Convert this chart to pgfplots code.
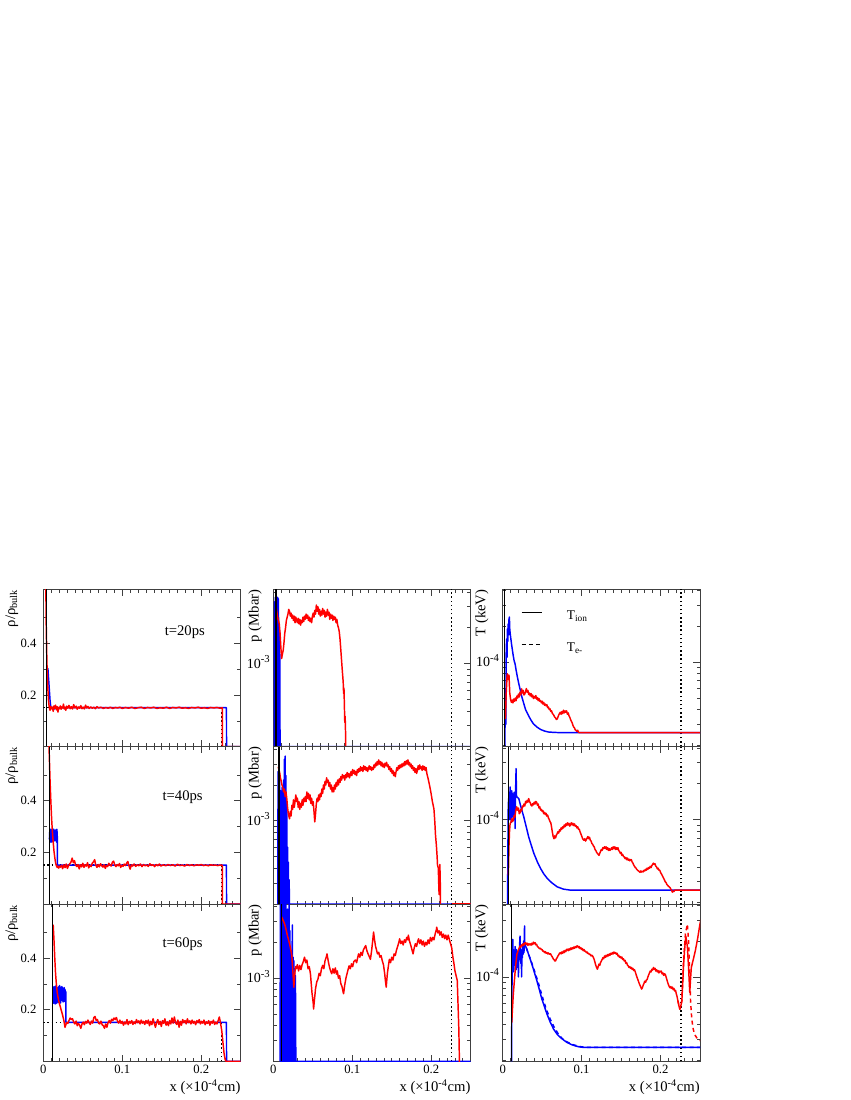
\documentclass[border=0pt]{standalone}
\usepackage{fontspec}
\setmainfont{Liberation Serif}
\usepackage{pgfplots}
\pgfplotsset{compat=1.18}

% 1px of the reference = 0.75pt
\newcommand{\expo}[1]{{\fontsize{10.5}{11}\selectfont 10}\raisebox{1.0ex}{\fontsize{8}{8}\selectfont #1}}
\pgfplotsset{
  panel/.style={
    scale only axis, width=148pt, height=118pt, anchor=north west,
    xmin=0, xmax=0.25,
    xtick={0,0.1,0.2}, minor xtick={0.01,0.02,...,0.24},
    tick align=inside, major tick length=5pt, minor tick length=2.5pt,
    axis line style={black!75, line width=0.6pt},
    every tick/.style={black!75, line width=0.5pt},
    tick label style={font=\fontsize{9.5}{10}\selectfont},
    label style={font=\fontsize{11}{13}\selectfont},
    /pgf/number format/assume math mode=true,
    xticklabel style={inner sep=0pt, anchor=north, yshift=-2.4pt},
    xlabel style={at={(axis description cs:1,0)}, anchor=base east, yshift=-22.5pt, inner sep=0pt},
    ylabel style={anchor=east, inner sep=0pt},
    every axis plot/.append style={line width=1.1pt, line join=round, mark=none},
  },
  rowup/.style={xticklabels={}},
  rowlow/.style={xlabel={x (×10\textsuperscript{-4}cm)}},
  rhocol/.style={ymin=0, ymax=0.61, ytick={0.2,0.4}, minor ytick={0.1,0.3,0.5},
    yticklabel style={inner sep=0pt, anchor=east, xshift=-5pt},
    ylabel={ρ/ρ\textsubscript{bulk}}, ylabel style={at={(axis description cs:-0.16,1)}}},
  pcol/.style={ymin=2e-4, ymax=4.2e-3, ytick={1e-3}, yticklabels={{\expo{-3}}},
    minor ytick={3e-4,4e-4,5e-4,6e-4,7e-4,8e-4,9e-4,2e-3,3e-3,4e-3},
    yticklabel style={inner sep=0pt, anchor=base east, xshift=-2.5pt, yshift=-3.5pt},
    ylabel={p (Mbar)}, ylabel style={at={(axis description cs:-0.093,1)}}},
  tcol/.style={ymin=1.95e-5, ymax=4.1e-4, ytick={1e-4}, yticklabels={{\expo{-4}}},
    minor ytick={2e-5,3e-5,4e-5,5e-5,6e-5,7e-5,8e-5,9e-5,2e-4,3e-4,4e-4},
    yticklabel style={inner sep=0pt, anchor=base east, xshift=-2.5pt, yshift=-3.5pt},
    ylabel={T (keV)}, ylabel style={at={(axis description cs:-0.106,1)}}},
}
\tikzset{rootdash/.style={dash pattern=on 3pt off 2.5pt}}

\begin{document}
\begin{tikzpicture}
\useasboundingbox (0,0) rectangle (637.5pt,825pt);

%================ row 1 : t = 20 ps ================
\begin{axis}[panel, rowup, rhocol, at={(32.5pt,383pt)}]
\addplot[black, dotted, line width=0.9pt] coordinates {(0,0.151) (0.226,0.151)};
\addplot[black, dotted, line width=0.9pt] coordinates {(0.226,0) (0.226,0.151)};
\addplot[blue] coordinates {(0.004,0.303) (0.0058,0.303) (0.0085,0.18) (0.0095,0.151) (0.0125,0.151) (0.014,0.146) (0.016,0.151) (0.232,0.151) (0.2321,0) (0.25,0)};
\addplot[red] coordinates {(0.0025,0.95) (0.0035,0.5) (0.0045,0.33) (0.0055,0.24) (0.0065,0.18) (0.0075,0.152) (0.0085,0.141) (0.0095,0.156) (0.0105,0.146) (0.0115,0.153) (0.0125,0.137) (0.0135,0.158) (0.0145,0.149) (0.0155,0.161) (0.0165,0.143) (0.0175,0.155) (0.0185,0.134) (0.0195,0.152) (0.0205,0.147) (0.0215,0.158) (0.0225,0.145) (0.0235,0.154) (0.0245,0.15) (0.0255,0.165) (0.0265,0.146) (0.0275,0.153) (0.0285,0.141) (0.0295,0.157) (0.031,0.149) (0.0325,0.16) (0.034,0.147) (0.0355,0.155) (0.037,0.146) (0.0385,0.163) (0.04,0.15) (0.0415,0.157) (0.043,0.145) (0.0445,0.154) (0.046,0.149) (0.0475,0.159) (0.049,0.147) (0.0505,0.153) (0.052,0.146) (0.0535,0.161) (0.055,0.15) (0.0565,0.156) (0.058,0.148) (0.06,0.154) (0.062,0.149) (0.064,0.153) (0.066,0.147) (0.068,0.155) (0.07,0.15) (0.073,0.153) (0.076,0.148) (0.079,0.152) (0.082,0.149) (0.085,0.153) (0.088,0.148) (0.091,0.152) (0.094,0.15) (0.097,0.153) (0.1,0.148) (0.104,0.152) (0.108,0.149) (0.112,0.153) (0.116,0.148) (0.12,0.151) (0.124,0.153) (0.128,0.148) (0.132,0.152) (0.136,0.15) (0.14,0.153) (0.144,0.148) (0.148,0.151) (0.152,0.149) (0.156,0.153) (0.16,0.148) (0.164,0.152) (0.168,0.15) (0.172,0.153) (0.176,0.149) (0.18,0.151) (0.184,0.148) (0.188,0.152) (0.192,0.15) (0.196,0.153) (0.2,0.149) (0.204,0.151) (0.208,0.148) (0.212,0.152) (0.216,0.15) (0.22,0.152) (0.224,0.149) (0.2268,0.151) (0.2269,0) (0.25,0)};
\addplot[black, line width=0.9pt] coordinates {(0.0043,0) (0.0043,0.61)};
\node[font=\fontsize{11}{13}\selectfont] at (rel axis cs:0.717,0.73) {t=20ps};
\end{axis}

\begin{axis}[panel, rowup, ymode=log, pcol, at={(205pt,383pt)}]
\addplot[black, dotted, line width=0.9pt] coordinates {(0.226,2e-4) (0.226,4.2e-3)};
\addplot[blue] coordinates {(0.0013,2e-4) (0.0015,3.3e-3) (0.002,2e-4) (0.0025,3.6e-3) (0.003,2e-4) (0.0035,3.2e-3) (0.004,2e-4) (0.0045,2.8e-3) (0.005,2e-4) (0.0055,3.6e-3) (0.006,2e-4) (0.0065,3.5e-3) (0.007,2e-4) (0.0075,2.0e-3) (0.008,2e-4) (0.0083,1.2e-3) (0.0085,2e-4) (0.25,2e-4)};
\addplot[red] coordinates {(0.0035,3.0e-3) (0.0045,2.7e-3) (0.0055,2.45e-3) (0.0065,2.3e-3) (0.0075,2.15e-3) (0.0085,1.8e-3) (0.0095,1.38e-3) (0.0105,1.1e-3) (0.0115,1.2e-3) (0.0125,1.29e-3) (0.0135,1.5e-3) (0.0145,1.8e-3) (0.0155,2.0e-3) (0.0165,2.3e-3) (0.0175,2.45e-3) (0.0185,2.6e-3) (0.0195,2.85e-3) (0.0205,2.75e-3) (0.0215,2.5e-3) (0.0225,2.65e-3) (0.0235,2.4e-3) (0.0245,2.55e-3) (0.0255,2.3e-3) (0.0265,2.5e-3) (0.0275,2.2e-3) (0.0285,2.45e-3) (0.0295,2.3e-3) (0.0305,2.2e-3) (0.0315,2.4e-3) (0.0325,2.15e-3) (0.0335,2.35e-3) (0.0345,2.1e-3) (0.0355,2.3e-3) (0.0365,2.2e-3) (0.0375,2.45e-3) (0.0385,2.25e-3) (0.0395,2.5e-3) (0.0405,2.35e-3) (0.0415,2.6e-3) (0.0425,2.4e-3) (0.0435,2.55e-3) (0.0445,2.3e-3) (0.0455,2.45e-3) (0.0465,2.25e-3) (0.0475,2.4e-3) (0.0485,2.2e-3) (0.0495,2.5e-3) (0.0505,2.65e-3) (0.0515,2.45e-3) (0.0525,2.8e-3) (0.0535,2.6e-3) (0.0545,3.1e-3) (0.0555,2.75e-3) (0.0565,3.0e-3) (0.0575,2.6e-3) (0.0585,2.85e-3) (0.0595,2.5e-3) (0.0605,2.75e-3) (0.0615,2.55e-3) (0.0625,2.9e-3) (0.0635,2.6e-3) (0.0645,2.8e-3) (0.0655,2.45e-3) (0.0665,2.7e-3) (0.0675,2.5e-3) (0.0685,2.85e-3) (0.0695,2.55e-3) (0.0705,2.7e-3) (0.0715,2.35e-3) (0.0725,2.6e-3) (0.0735,2.4e-3) (0.0745,2.55e-3) (0.0755,2.3e-3) (0.0765,2.5e-3) (0.0775,2.35e-3) (0.0785,2.45e-3) (0.0795,2.2e-3) (0.0805,2.35e-3) (0.0815,2.1e-3) (0.0825,2.0e-3) (0.0835,1.85e-3) (0.0845,1.6e-3) (0.0855,1.3e-3) (0.0865,1.05e-3) (0.0875,8.5e-4) (0.0885,7e-4) (0.089,5.6e-4) (0.0895,6.2e-4) (0.09,4.5e-4) (0.0905,3.2e-4) (0.091,3.6e-4) (0.0915,2.6e-4) (0.092,1.5e-4)};
\addplot[red] coordinates {(0.226,2e-4) (0.25,2e-4)};
\addplot[black, line width=0.9pt] coordinates {(0.0033,2e-4) (0.0033,4.2e-3)};
\end{axis}

\begin{axis}[panel, rowup, ymode=log, tcol, at={(377pt,383pt)}]
\addplot[black, dotted, line width=0.9pt] coordinates {(0.2259,1.95e-5) (0.2259,4.1e-4)};
\addplot[blue] coordinates {(0.0028,1.95e-5) (0.003,3e-5) (0.0035,6e-5) (0.004,3e-5) (0.0045,1.2e-4) (0.005,1.57e-4) (0.0055,1.1e-4) (0.006,1.9e-4) (0.0065,1.5e-4) (0.007,2.1e-4) (0.0075,1.7e-4) (0.008,2.3e-4) (0.0085,2.4e-4) (0.009,1.9e-4) (0.0095,1.75e-4) (0.0105,1.55e-4) (0.0115,1.38e-4) (0.013,1.18e-4) (0.0145,1.03e-4) (0.0157,9.7e-5) (0.017,8.6e-5) (0.0185,7.6e-5) (0.02,6.8e-5) (0.022,5.95e-5) (0.024,5.2e-5) (0.0263,4.6e-5) (0.029,4.0e-5) (0.0327,3.56e-5) (0.036,3.25e-5) (0.039,3.03e-5) (0.0435,2.85e-5) (0.048,2.72e-5) (0.053,2.64e-5) (0.058,2.59e-5) (0.065,2.57e-5) (0.073,2.56e-5) (0.25,2.56e-5)};
\addplot[red] coordinates {(0.0035,3.33e-5) (0.0045,5.5e-5) (0.0055,7.5e-5) (0.006,8.0e-5) (0.007,7.2e-5) (0.008,7.8e-5) (0.009,5.5e-5) (0.01,4.9e-5) (0.011,4.6e-5) (0.012,4.8e-5) (0.013,4.55e-5) (0.014,4.9e-5) (0.015,4.7e-5) (0.016,5.0e-5) (0.017,4.75e-5) (0.018,5.2e-5) (0.019,5.0e-5) (0.02,5.4e-5) (0.021,5.1e-5) (0.022,5.6e-5) (0.023,5.3e-5) (0.024,5.97e-5) (0.025,5.5e-5) (0.026,5.8e-5) (0.027,5.3e-5) (0.028,5.4e-5) (0.029,5.65e-5) (0.03,6.0e-5) (0.031,5.6e-5) (0.032,5.8e-5) (0.033,5.35e-5) (0.034,5.5e-5) (0.035,5.2e-5) (0.036,5.45e-5) (0.037,5.1e-5) (0.038,5.3e-5) (0.039,4.95e-5) (0.04,5.15e-5) (0.041,5.0e-5) (0.042,5.25e-5) (0.043,4.9e-5) (0.044,5.05e-5) (0.045,4.75e-5) (0.046,4.95e-5) (0.047,4.7e-5) (0.048,4.76e-5) (0.049,4.55e-5) (0.05,4.7e-5) (0.051,4.45e-5) (0.052,4.6e-5) (0.053,4.35e-5) (0.054,4.45e-5) (0.055,4.3e-5) (0.056,4.4e-5) (0.057,4.15e-5) (0.058,4.2e-5) (0.059,4.0e-5) (0.06,4.05e-5) (0.061,3.85e-5) (0.062,3.9e-5) (0.063,3.7e-5) (0.064,3.65e-5) (0.065,3.56e-5) (0.066,3.45e-5) (0.067,3.4e-5) (0.068,3.3e-5) (0.069,3.33e-5) (0.07,3.45e-5) (0.071,3.6e-5) (0.072,3.7e-5) (0.073,3.8e-5) (0.074,3.65e-5) (0.075,3.85e-5) (0.076,3.7e-5) (0.077,3.95e-5) (0.078,3.75e-5) (0.079,3.9e-5) (0.08,3.8e-5) (0.081,3.9e-5) (0.082,3.65e-5) (0.083,3.75e-5) (0.084,3.55e-5) (0.085,3.45e-5) (0.086,3.3e-5) (0.087,3.2e-5) (0.088,3.1e-5) (0.089,2.95e-5) (0.09,2.85e-5) (0.091,2.8e-5) (0.092,2.7e-5) (0.093,2.67e-5) (0.094,2.62e-5) (0.095,2.68e-5) (0.096,2.58e-5) (0.097,2.56e-5) (0.25,2.56e-5)};
\addplot[black, line width=0.9pt] coordinates {(0.002,1.95e-5) (0.002,4.1e-4)};
\draw[black, line width=1.1pt] (rel axis cs:0.096,0.854) -- (rel axis cs:0.197,0.854);
\draw[black, line width=1.1pt, rootdash] (rel axis cs:0.096,0.651) -- (rel axis cs:0.197,0.651);
\node[anchor=base west, inner sep=0pt, font=\fontsize{10}{11}\selectfont] at (rel axis cs:0.324,0.809) {T\textsubscript{ion}};
\node[anchor=base west, inner sep=0pt, font=\fontsize{10}{11}\selectfont] at (rel axis cs:0.324,0.608) {T\textsubscript{e-}};
\end{axis}

%================ row 2 : t = 40 ps ================
\begin{axis}[panel, rowup, rhocol, at={(32.5pt,265pt)}]
\addplot[black, dotted, line width=0.9pt] coordinates {(0,0.151) (0.226,0.151)};
\addplot[black, dotted, line width=0.9pt] coordinates {(0.226,0) (0.226,0.151)};
\addplot[blue] coordinates {(0.0077,0.25) (0.0082,0.285) (0.0087,0.24) (0.0092,0.29) (0.0097,0.245) (0.0102,0.28) (0.0107,0.24) (0.0112,0.288) (0.0117,0.25) (0.0122,0.285) (0.0127,0.242) (0.0132,0.29) (0.0137,0.248) (0.0142,0.283) (0.0147,0.245) (0.0152,0.287) (0.0157,0.25) (0.0162,0.282) (0.0167,0.24) (0.0172,0.29) (0.0177,0.26) (0.0179,0.151) (0.232,0.151) (0.2321,0) (0.25,0)};
\addplot[red] coordinates {(0.0055,0.9) (0.0065,0.7) (0.0075,0.58) (0.0085,0.48) (0.0095,0.4) (0.0105,0.33) (0.0115,0.28) (0.0125,0.24) (0.0135,0.205) (0.0145,0.18) (0.0155,0.16) (0.0165,0.148) (0.0175,0.142) (0.0185,0.147) (0.0195,0.139) (0.0205,0.146) (0.0215,0.143) (0.023,0.15) (0.0245,0.137) (0.026,0.152) (0.0275,0.141) (0.029,0.155) (0.0305,0.138) (0.032,0.149) (0.0335,0.156) (0.035,0.162) (0.0365,0.178) (0.038,0.16) (0.0395,0.168) (0.041,0.15) (0.0425,0.145) (0.044,0.153) (0.0455,0.136) (0.047,0.152) (0.0485,0.144) (0.05,0.158) (0.0515,0.142) (0.053,0.152) (0.0545,0.147) (0.056,0.16) (0.0575,0.14) (0.059,0.149) (0.0605,0.145) (0.062,0.158) (0.0635,0.163) (0.065,0.172) (0.0665,0.15) (0.068,0.142) (0.0695,0.153) (0.071,0.144) (0.0725,0.156) (0.074,0.148) (0.0755,0.143) (0.077,0.152) (0.0785,0.138) (0.08,0.149) (0.0815,0.145) (0.083,0.158) (0.0845,0.15) (0.086,0.147) (0.0875,0.162) (0.089,0.166) (0.0905,0.151) (0.092,0.145) (0.0935,0.153) (0.095,0.148) (0.0965,0.157) (0.098,0.142) (0.0995,0.15) (0.101,0.146) (0.1025,0.155) (0.104,0.149) (0.1055,0.158) (0.107,0.165) (0.1085,0.148) (0.11,0.135) (0.1115,0.152) (0.113,0.147) (0.115,0.155) (0.117,0.146) (0.119,0.152) (0.121,0.148) (0.123,0.155) (0.125,0.145) (0.127,0.153) (0.129,0.148) (0.131,0.151) (0.133,0.146) (0.135,0.156) (0.137,0.149) (0.139,0.152) (0.141,0.145) (0.143,0.153) (0.145,0.148) (0.147,0.155) (0.149,0.147) (0.152,0.152) (0.155,0.148) (0.158,0.153) (0.161,0.149) (0.164,0.152) (0.167,0.147) (0.17,0.154) (0.173,0.149) (0.176,0.151) (0.179,0.147) (0.182,0.153) (0.185,0.149) (0.188,0.152) (0.191,0.148) (0.194,0.152) (0.197,0.15) (0.2,0.153) (0.203,0.149) (0.206,0.151) (0.209,0.148) (0.212,0.152) (0.215,0.15) (0.218,0.151) (0.221,0.149) (0.224,0.151) (0.2268,0.15) (0.2269,0) (0.25,0)};
\addplot[black, line width=0.9pt] coordinates {(0.0077,0) (0.0077,0.61)};
\node[font=\fontsize{11}{13}\selectfont] at (rel axis cs:0.706,0.68) {t=40ps};
\end{axis}

\begin{axis}[panel, rowup, ymode=log, pcol, at={(205pt,265pt)}]
\addplot[black, dotted, line width=0.9pt] coordinates {(0.226,2e-4) (0.226,4.2e-3)};
\addplot[blue] coordinates {(0.0056,2e-4) (0.006,2.6e-3) (0.0065,2e-4) (0.007,3.0e-3) (0.0075,2e-4) (0.008,2.2e-3) (0.0085,2e-4) (0.009,1.8e-3) (0.0095,2e-4) (0.01,1.6e-3) (0.0105,2e-4) (0.011,1.9e-3) (0.0115,2e-4) (0.012,1.7e-3) (0.0125,2e-4) (0.013,2.2e-3) (0.0135,2e-4) (0.014,3.3e-3) (0.0145,2e-4) (0.015,3.5e-3) (0.0155,2e-4) (0.016,2.4e-3) (0.0165,2e-4) (0.017,1.3e-3) (0.0175,2e-4) (0.018,6e-4) (0.0185,2e-4) (0.019,4.5e-4) (0.0195,2e-4) (0.02,3.2e-4) (0.0205,2e-4) (0.25,2e-4)};
\addplot[red] coordinates {(0.0062,2.85e-3) (0.007,2.7e-3) (0.008,2.55e-3) (0.009,2.3e-3) (0.01,2.15e-3) (0.011,2.0e-3) (0.012,1.9e-3) (0.013,1.75e-3) (0.014,1.85e-3) (0.015,1.6e-3) (0.016,1.75e-3) (0.017,1.55e-3) (0.018,1.3e-3) (0.019,1.15e-3) (0.0205,1.04e-3) (0.0215,1.2e-3) (0.0225,1.1e-3) (0.0235,1.35e-3) (0.0245,1.25e-3) (0.0255,1.5e-3) (0.0265,1.3e-3) (0.0275,1.45e-3) (0.0285,1.65e-3) (0.0295,1.45e-3) (0.0305,1.55e-3) (0.0315,1.3e-3) (0.0325,1.45e-3) (0.0335,1.25e-3) (0.0345,1.4e-3) (0.0355,1.3e-3) (0.0365,1.5e-3) (0.0375,1.35e-3) (0.0385,1.55e-3) (0.0395,1.45e-3) (0.0405,1.6e-3) (0.0415,1.45e-3) (0.0425,1.75e-3) (0.0435,1.55e-3) (0.0445,1.7e-3) (0.0455,1.5e-3) (0.0465,1.65e-3) (0.0475,1.4e-3) (0.0485,1.55e-3) (0.0495,1.35e-3) (0.0505,1.45e-3) (0.0515,1.2e-3) (0.0525,0.98e-3) (0.0535,1.15e-3) (0.0545,1.4e-3) (0.0555,1.55e-3) (0.0565,1.45e-3) (0.0575,1.65e-3) (0.0585,1.5e-3) (0.0595,1.7e-3) (0.0605,1.6e-3) (0.0615,1.85e-3) (0.0625,1.7e-3) (0.0635,2.0e-3) (0.0645,1.85e-3) (0.0655,2.15e-3) (0.0665,2.0e-3) (0.0675,2.3e-3) (0.0685,2.1e-3) (0.0695,2.2e-3) (0.0705,1.95e-3) (0.0715,2.1e-3) (0.0725,1.85e-3) (0.0735,2.0e-3) (0.0745,1.75e-3) (0.0755,1.9e-3) (0.0765,1.75e-3) (0.0775,2.0e-3) (0.0785,1.85e-3) (0.0795,2.1e-3) (0.0805,1.95e-3) (0.0815,2.2e-3) (0.0825,2.0e-3) (0.0835,2.25e-3) (0.0845,2.1e-3) (0.0855,2.35e-3) (0.0865,2.2e-3) (0.0875,2.45e-3) (0.0885,2.3e-3) (0.0895,2.4e-3) (0.0905,2.2e-3) (0.0915,2.45e-3) (0.0925,2.3e-3) (0.0935,2.55e-3) (0.0945,2.35e-3) (0.0955,2.5e-3) (0.0965,2.3e-3) (0.0975,2.45e-3) (0.0985,2.6e-3) (0.0995,2.4e-3) (0.1005,2.7e-3) (0.1015,2.5e-3) (0.1025,2.65e-3) (0.1035,2.45e-3) (0.1045,2.6e-3) (0.1055,2.4e-3) (0.1065,2.7e-3) (0.1075,2.55e-3) (0.1085,2.75e-3) (0.1095,2.6e-3) (0.1105,2.85e-3) (0.1115,2.65e-3) (0.1125,2.8e-3) (0.1135,2.6e-3) (0.1145,2.9e-3) (0.1155,2.7e-3) (0.1165,2.85e-3) (0.1175,2.65e-3) (0.1185,2.8e-3) (0.1195,2.6e-3) (0.1205,2.75e-3) (0.1215,2.9e-3) (0.1225,2.7e-3) (0.1235,2.85e-3) (0.1245,2.65e-3) (0.1255,2.8e-3) (0.1265,2.7e-3) (0.1275,2.95e-3) (0.1285,2.8e-3) (0.1295,3.05e-3) (0.1305,2.9e-3) (0.1315,3.15e-3) (0.1325,2.95e-3) (0.1335,3.25e-3) (0.1345,3.0e-3) (0.1355,3.15e-3) (0.1365,2.9e-3) (0.1375,3.1e-3) (0.1385,2.85e-3) (0.1395,3.0e-3) (0.1405,2.8e-3) (0.1415,3.05e-3) (0.1425,2.9e-3) (0.1435,3.1e-3) (0.1445,2.85e-3) (0.1455,2.95e-3) (0.1465,2.7e-3) (0.1475,2.85e-3) (0.1485,2.6e-3) (0.1495,2.75e-3) (0.1505,2.5e-3) (0.1515,2.65e-3) (0.1525,2.4e-3) (0.1535,2.55e-3) (0.1545,2.35e-3) (0.1555,2.6e-3) (0.1565,2.8e-3) (0.1575,2.65e-3) (0.1585,2.9e-3) (0.1595,2.75e-3) (0.1605,2.95e-3) (0.1615,2.8e-3) (0.1625,3.0e-3) (0.1635,2.85e-3) (0.1645,3.05e-3) (0.1655,2.9e-3) (0.1665,3.15e-3) (0.1675,2.95e-3) (0.1685,3.2e-3) (0.1695,3.0e-3) (0.1705,3.25e-3) (0.1715,2.95e-3) (0.1725,3.1e-3) (0.1735,2.85e-3) (0.1745,3.0e-3) (0.1755,2.75e-3) (0.1765,2.9e-3) (0.1775,2.65e-3) (0.1785,2.8e-3) (0.1795,2.55e-3) (0.1805,2.75e-3) (0.1815,2.5e-3) (0.1825,2.65e-3) (0.1835,2.9e-3) (0.1845,2.7e-3) (0.1855,2.95e-3) (0.1865,2.75e-3) (0.1875,2.85e-3) (0.1885,2.65e-3) (0.1895,2.9e-3) (0.1905,2.7e-3) (0.1915,2.85e-3) (0.1925,2.65e-3) (0.1935,2.8e-3) (0.1945,2.5e-3) (0.1955,2.35e-3) (0.1965,2.2e-3) (0.1975,2.05e-3) (0.1985,1.9e-3) (0.1995,1.75e-3) (0.2005,1.6e-3) (0.2015,1.45e-3) (0.2025,1.35e-3) (0.2035,1.25e-3) (0.2045,1.0e-3) (0.2055,7.5e-4) (0.2065,6.3e-4) (0.2075,5e-4) (0.208,4.25e-4) (0.209,4.0e-4) (0.2095,3.0e-4) (0.21,2.4e-4) (0.2105,3.8e-4) (0.211,4.3e-4) (0.2115,3.0e-4) (0.212,1.5e-4)};
\addplot[red] coordinates {(0.226,2e-4) (0.25,2e-4)};
\addplot[black, line width=0.9pt] coordinates {(0.0073,2e-4) (0.0073,4.2e-3)};
\end{axis}

\begin{axis}[panel, rowup, ymode=log, tcol, at={(377pt,265pt)}]
\addplot[black, dotted, line width=0.9pt] coordinates {(0.2259,1.95e-5) (0.2259,4.1e-4)};
\addplot[blue] coordinates {(0.0062,1.95e-5) (0.0064,3.4e-5) (0.007,1.2e-4) (0.0075,1.5e-4) (0.008,1.1e-4) (0.0085,1.7e-4) (0.009,1.0e-4) (0.0095,1.88e-4) (0.01,1.2e-4) (0.0105,1.6e-4) (0.011,9.5e-5) (0.0115,1.75e-4) (0.012,1.1e-4) (0.0125,1.65e-4) (0.013,1.05e-4) (0.0135,1.5e-4) (0.014,1.2e-4) (0.0145,1.7e-4) (0.015,1.0e-4) (0.0155,1.6e-4) (0.0157,8.4e-5) (0.016,1.4e-4) (0.0165,1.9e-4) (0.017,2.68e-4) (0.0175,1.6e-4) (0.018,1.55e-4) (0.0204,1.5e-4) (0.0235,1.25e-4) (0.0268,1.05e-4) (0.03,8.6e-5) (0.0331,7.1e-5) (0.0365,6.0e-5) (0.0395,5.2e-5) (0.044,4.4e-5) (0.048,3.88e-5) (0.052,3.5e-5) (0.0565,3.2e-5) (0.062,2.95e-5) (0.069,2.72e-5) (0.077,2.6e-5) (0.086,2.55e-5) (0.25,2.55e-5)};
\addplot[red] coordinates {(0.0072,3.4e-5) (0.008,6e-5) (0.0087,8e-5) (0.0094,9.2e-5) (0.0105,9.5e-5) (0.0115,1.02e-4) (0.0125,9.6e-5) (0.0136,9.9e-5) (0.0145,1.08e-4) (0.0155,1.05e-4) (0.0165,1.18e-4) (0.0178,1.28e-4) (0.019,1.2e-4) (0.02,1.25e-4) (0.021,1.12e-4) (0.022,1.14e-4) (0.023,1.22e-4) (0.024,1.18e-4) (0.025,1.3e-4) (0.026,1.28e-4) (0.027,1.35e-4) (0.028,1.3e-4) (0.029,1.42e-4) (0.03,1.38e-4) (0.031,1.45e-4) (0.032,1.4e-4) (0.033,1.5e-4) (0.034,1.42e-4) (0.035,1.38e-4) (0.036,1.32e-4) (0.037,1.3e-4) (0.038,1.36e-4) (0.039,1.33e-4) (0.04,1.4e-4) (0.041,1.35e-4) (0.042,1.42e-4) (0.043,1.4e-4) (0.044,1.32e-4) (0.045,1.35e-4) (0.046,1.25e-4) (0.047,1.28e-4) (0.048,1.2e-4) (0.049,1.22e-4) (0.05,1.17e-4) (0.051,1.19e-4) (0.052,1.12e-4) (0.053,1.15e-4) (0.054,1.1e-4) (0.055,1.13e-4) (0.056,1.07e-4) (0.057,1.09e-4) (0.058,1.03e-4) (0.059,1.0e-4) (0.06,9.6e-5) (0.061,9.4e-5) (0.062,8.6e-5) (0.063,7.8e-5) (0.064,7.2e-5) (0.065,6.9e-5) (0.066,7.3e-5) (0.067,7.0e-5) (0.068,7.4e-5) (0.069,7.6e-5) (0.07,7.9e-5) (0.071,7.7e-5) (0.072,8.2e-5) (0.073,8.0e-5) (0.074,8.5e-5) (0.075,8.3e-5) (0.076,8.7e-5) (0.077,8.5e-5) (0.078,9.0e-5) (0.079,8.7e-5) (0.08,9.2e-5) (0.081,8.9e-5) (0.082,9.4e-5) (0.083,9.0e-5) (0.084,9.3e-5) (0.085,8.8e-5) (0.086,9.1e-5) (0.087,9.4e-5) (0.088,9.0e-5) (0.089,9.3e-5) (0.09,8.9e-5) (0.091,9.2e-5) (0.092,8.8e-5) (0.093,8.9e-5) (0.094,8.5e-5) (0.095,8.7e-5) (0.096,8.3e-5) (0.097,8.3e-5) (0.098,7.9e-5) (0.099,7.6e-5) (0.1,7.3e-5) (0.101,7.0e-5) (0.102,6.8e-5) (0.103,6.7e-5) (0.104,6.9e-5) (0.105,6.6e-5) (0.106,6.8e-5) (0.107,7.0e-5) (0.108,7.2e-5) (0.109,6.9e-5) (0.11,7.1e-5) (0.111,6.7e-5) (0.112,6.6e-5) (0.113,6.3e-5) (0.114,6.2e-5) (0.115,6.0e-5) (0.116,5.9e-5) (0.117,5.6e-5) (0.118,5.5e-5) (0.119,5.3e-5) (0.12,5.2e-5) (0.121,5.1e-5) (0.122,5.0e-5) (0.123,5.2e-5) (0.124,5.4e-5) (0.125,5.6e-5) (0.126,5.5e-5) (0.127,5.8e-5) (0.128,5.7e-5) (0.129,5.9e-5) (0.13,5.7e-5) (0.131,5.9e-5) (0.132,5.6e-5) (0.133,5.8e-5) (0.134,5.5e-5) (0.135,5.7e-5) (0.136,5.5e-5) (0.137,5.6e-5) (0.138,5.8e-5) (0.139,5.6e-5) (0.14,5.9e-5) (0.141,5.7e-5) (0.142,5.9e-5) (0.143,5.6e-5) (0.144,5.8e-5) (0.145,5.6e-5) (0.146,5.8e-5) (0.147,5.5e-5) (0.148,5.4e-5) (0.149,5.2e-5) (0.15,5.3e-5) (0.151,5.0e-5) (0.152,5.1e-5) (0.153,4.9e-5) (0.154,4.85e-5) (0.155,4.7e-5) (0.156,4.8e-5) (0.157,4.6e-5) (0.158,4.75e-5) (0.159,4.55e-5) (0.16,4.65e-5) (0.161,4.5e-5) (0.162,4.6e-5) (0.163,4.6e-5) (0.164,4.4e-5) (0.165,4.3e-5) (0.166,4.15e-5) (0.167,4.05e-5) (0.168,3.95e-5) (0.169,3.9e-5) (0.17,3.8e-5) (0.171,3.75e-5) (0.172,3.7e-5) (0.173,3.65e-5) (0.174,3.6e-5) (0.175,3.7e-5) (0.176,3.62e-5) (0.177,3.68e-5) (0.178,3.63e-5) (0.179,3.75e-5) (0.18,3.7e-5) (0.181,3.82e-5) (0.182,3.75e-5) (0.183,3.9e-5) (0.184,3.82e-5) (0.185,3.95e-5) (0.186,3.9e-5) (0.187,4.05e-5) (0.188,3.95e-5) (0.189,4.1e-5) (0.19,4.2e-5) (0.191,4.3e-5) (0.192,4.2e-5) (0.193,4.25e-5) (0.194,4.05e-5) (0.195,4.0e-5) (0.196,3.85e-5) (0.197,3.9e-5) (0.198,3.75e-5) (0.199,3.75e-5) (0.2,3.6e-5) (0.201,3.5e-5) (0.202,3.4e-5) (0.203,3.3e-5) (0.204,3.2e-5) (0.205,3.1e-5) (0.206,3.0e-5) (0.207,2.95e-5) (0.208,2.85e-5) (0.209,2.8e-5) (0.21,2.75e-5) (0.211,2.72e-5) (0.212,2.68e-5) (0.213,2.6e-5) (0.214,2.55e-5) (0.215,2.45e-5) (0.216,2.5e-5) (0.217,2.48e-5) (0.218,2.55e-5) (0.25,2.55e-5)};
\addplot[black, line width=0.9pt] coordinates {(0.0076,1.95e-5) (0.0076,4.1e-4)};
\end{axis}

%================ row 3 : t = 60 ps ================
\begin{axis}[panel, rowlow, rhocol, at={(32.5pt,147pt)}]
\addplot[black, dotted, line width=0.9pt] coordinates {(0,0.151) (0.226,0.151)};
\addplot[black, dotted, line width=0.9pt] coordinates {(0.226,0) (0.226,0.151)};
\addplot[blue] coordinates {(0.012,0.23) (0.0125,0.285) (0.013,0.225) (0.0135,0.29) (0.014,0.228) (0.0145,0.28) (0.015,0.222) (0.0155,0.292) (0.016,0.23) (0.0165,0.275) (0.017,0.225) (0.0175,0.285) (0.018,0.232) (0.0185,0.27) (0.019,0.228) (0.0195,0.29) (0.02,0.235) (0.0205,0.294) (0.021,0.23) (0.0215,0.288) (0.022,0.226) (0.0225,0.282) (0.023,0.24) (0.0235,0.29) (0.024,0.235) (0.0245,0.285) (0.025,0.23) (0.0255,0.28) (0.026,0.238) (0.0265,0.286) (0.027,0.232) (0.0275,0.278) (0.028,0.24) (0.0285,0.27) (0.0286,0.151) (0.232,0.151) (0.2321,0) (0.25,0)};
\addplot[red] coordinates {(0.0125,0.53) (0.0135,0.47) (0.0145,0.4) (0.0155,0.34) (0.0165,0.3) (0.0175,0.27) (0.0185,0.25) (0.0195,0.235) (0.0205,0.222) (0.0215,0.212) (0.0225,0.2) (0.0235,0.19) (0.0245,0.178) (0.0255,0.165) (0.0265,0.15) (0.0275,0.132) (0.0285,0.142) (0.0295,0.15) (0.031,0.147) (0.0325,0.158) (0.034,0.168) (0.0355,0.162) (0.037,0.165) (0.0385,0.152) (0.04,0.145) (0.0415,0.156) (0.043,0.138) (0.0445,0.147) (0.046,0.14) (0.0475,0.128) (0.049,0.145) (0.0505,0.152) (0.052,0.142) (0.0535,0.155) (0.055,0.148) (0.0565,0.16) (0.058,0.15) (0.0595,0.143) (0.061,0.156) (0.0625,0.148) (0.064,0.17) (0.0655,0.174) (0.067,0.158) (0.0685,0.162) (0.07,0.148) (0.0715,0.145) (0.073,0.156) (0.0745,0.142) (0.076,0.138) (0.0775,0.128) (0.079,0.145) (0.0805,0.132) (0.082,0.15) (0.0835,0.158) (0.085,0.148) (0.0865,0.163) (0.088,0.158) (0.0895,0.168) (0.091,0.162) (0.0925,0.17) (0.094,0.155) (0.0955,0.148) (0.097,0.16) (0.0985,0.147) (0.1,0.155) (0.1015,0.14) (0.103,0.152) (0.1045,0.145) (0.106,0.162) (0.1075,0.142) (0.109,0.155) (0.1105,0.148) (0.112,0.158) (0.1135,0.143) (0.115,0.153) (0.1165,0.146) (0.118,0.162) (0.1195,0.15) (0.121,0.157) (0.1225,0.145) (0.124,0.16) (0.1255,0.148) (0.127,0.155) (0.1285,0.143) (0.13,0.158) (0.1315,0.147) (0.133,0.16) (0.1345,0.138) (0.136,0.155) (0.1375,0.142) (0.139,0.165) (0.1405,0.148) (0.142,0.132) (0.1435,0.15) (0.145,0.162) (0.1465,0.143) (0.148,0.155) (0.1495,0.135) (0.151,0.158) (0.1525,0.147) (0.154,0.165) (0.1555,0.14) (0.157,0.153) (0.1585,0.138) (0.16,0.158) (0.1615,0.145) (0.163,0.168) (0.1645,0.148) (0.166,0.172) (0.1675,0.15) (0.169,0.143) (0.1705,0.16) (0.172,0.132) (0.1735,0.155) (0.175,0.14) (0.1765,0.162) (0.178,0.15) (0.1795,0.158) (0.181,0.145) (0.1825,0.165) (0.184,0.15) (0.1855,0.157) (0.187,0.145) (0.1885,0.16) (0.19,0.148) (0.1915,0.155) (0.193,0.142) (0.1945,0.158) (0.196,0.15) (0.1975,0.162) (0.199,0.145) (0.2005,0.155) (0.202,0.148) (0.2035,0.16) (0.205,0.142) (0.2065,0.153) (0.208,0.147) (0.2095,0.158) (0.211,0.14) (0.2125,0.155) (0.214,0.148) (0.2155,0.16) (0.217,0.143) (0.2185,0.152) (0.22,0.145) (0.2215,0.158) (0.223,0.172) (0.2245,0.148) (0.226,0.12) (0.2275,0.075) (0.229,0.03) (0.2305,0.005) (0.2315,0) (0.25,0)};
\addplot[black, line width=0.9pt] coordinates {(0.012,0) (0.012,0.61)};
\node[font=\fontsize{11}{13}\selectfont] at (rel axis cs:0.706,0.747) {t=60ps};
\end{axis}

\begin{axis}[panel, rowlow, ymode=log, pcol, at={(205pt,147pt)}]
\addplot[black, dotted, line width=0.9pt] coordinates {(0.226,2e-4) (0.226,4.2e-3)};
\addplot[blue] coordinates {(0.0085,2e-4) (0.009,5e-3) (0.0095,2e-4) (0.01,5e-3) (0.0105,2e-4) (0.011,5e-3) (0.0115,2e-4) (0.012,4.5e-3) (0.0125,2e-4) (0.013,5e-3) (0.0135,2e-4) (0.014,4.5e-3) (0.0145,2e-4) (0.015,3.6e-3) (0.0155,2e-4) (0.016,4.5e-3) (0.0165,2e-4) (0.017,3.0e-3) (0.0175,2e-4) (0.018,3.8e-3) (0.0185,2e-4) (0.019,2.7e-3) (0.0195,2e-4) (0.02,4.2e-3) (0.0205,2e-4) (0.021,2.5e-3) (0.0215,2e-4) (0.022,1.7e-3) (0.0225,2e-4) (0.023,1.6e-3) (0.0235,2e-4) (0.024,2.8e-3) (0.0245,2e-4) (0.025,1.5e-3) (0.0255,2e-4) (0.026,1.4e-3) (0.0265,2e-4) (0.027,1.2e-3) (0.0275,2e-4) (0.028,1.05e-3) (0.0285,2e-4) (0.25,2e-4)};
\addplot[red] coordinates {(0.0107,3.26e-3) (0.012,3.1e-3) (0.0135,2.95e-3) (0.0149,2.77e-3) (0.0165,2.5e-3) (0.018,2.25e-3) (0.019,2.14e-3) (0.0205,1.95e-3) (0.022,1.75e-3) (0.0234,1.55e-3) (0.0245,1.2e-3) (0.0255,9.5e-4) (0.026,8.4e-4) (0.027,1.05e-3) (0.028,1.25e-3) (0.029,1.2e-3) (0.0305,1.3e-3) (0.032,1.15e-3) (0.0335,1.28e-3) (0.035,1.18e-3) (0.0365,1.3e-3) (0.038,1.38e-3) (0.0395,1.5e-3) (0.041,1.35e-3) (0.0425,1.42e-3) (0.044,1.2e-3) (0.0455,1.25e-3) (0.047,1.09e-3) (0.048,9e-4) (0.049,7.5e-4) (0.0505,6.2e-4) (0.051,5.5e-4) (0.052,6.5e-4) (0.0535,8.2e-4) (0.055,9.3e-4) (0.0565,9.8e-4) (0.058,1.1e-3) (0.0595,1.05e-3) (0.061,1.2e-3) (0.0625,1.28e-3) (0.064,1.2e-3) (0.0655,1.4e-3) (0.067,1.5e-3) (0.068,1.6e-3) (0.0695,1.4e-3) (0.071,1.25e-3) (0.0725,1.15e-3) (0.074,1.09e-3) (0.0755,1.2e-3) (0.077,1.1e-3) (0.0785,1.22e-3) (0.08,1.08e-3) (0.081,1.15e-3) (0.0825,1.0e-3) (0.084,1.05e-3) (0.0855,9e-4) (0.087,8.5e-4) (0.0885,7.6e-4) (0.089,7.4e-4) (0.0905,8.8e-4) (0.092,1.0e-3) (0.0935,1.1e-3) (0.095,1.2e-3) (0.096,1.27e-3) (0.0975,1.2e-3) (0.099,1.32e-3) (0.1005,1.25e-3) (0.102,1.38e-3) (0.104,1.42e-3) (0.1055,1.35e-3) (0.107,1.5e-3) (0.108,1.6e-3) (0.1095,1.5e-3) (0.111,1.65e-3) (0.1125,1.55e-3) (0.114,1.72e-3) (0.1155,1.8e-3) (0.117,1.88e-3) (0.1185,1.7e-3) (0.12,1.6e-3) (0.1215,1.52e-3) (0.123,1.44e-3) (0.1245,1.7e-3) (0.126,2.1e-3) (0.127,2.44e-3) (0.128,2.15e-3) (0.1295,1.85e-3) (0.131,1.7e-3) (0.132,1.6e-3) (0.1335,1.65e-3) (0.135,1.5e-3) (0.1365,1.55e-3) (0.138,1.4e-3) (0.1395,1.3e-3) (0.141,1.1e-3) (0.142,9.5e-4) (0.143,8.4e-4) (0.1445,1.1e-3) (0.146,1.3e-3) (0.147,1.44e-3) (0.1485,1.35e-3) (0.15,1.5e-3) (0.1515,1.42e-3) (0.153,1.6e-3) (0.1545,1.55e-3) (0.156,1.72e-3) (0.1575,1.85e-3) (0.159,2.0e-3) (0.16,2.14e-3) (0.1615,1.95e-3) (0.163,2.05e-3) (0.1645,1.9e-3) (0.166,2.1e-3) (0.1675,2.0e-3) (0.169,2.2e-3) (0.1705,2.1e-3) (0.171,2.3e-3) (0.1725,2.05e-3) (0.174,1.9e-3) (0.1755,1.75e-3) (0.177,1.6e-3) (0.1785,1.8e-3) (0.18,1.95e-3) (0.1815,1.85e-3) (0.183,2.05e-3) (0.184,2.14e-3) (0.1855,1.95e-3) (0.187,2.1e-3) (0.1885,1.9e-3) (0.19,2.05e-3) (0.1915,1.85e-3) (0.193,2.0e-3) (0.1945,1.9e-3) (0.196,2.1e-3) (0.1975,1.95e-3) (0.199,2.2e-3) (0.2005,2.05e-3) (0.202,2.2e-3) (0.2035,2.1e-3) (0.205,2.35e-3) (0.2065,2.55e-3) (0.207,2.68e-3) (0.2085,2.4e-3) (0.21,2.5e-3) (0.211,2.3e-3) (0.2125,2.45e-3) (0.214,2.2e-3) (0.2155,2.35e-3) (0.217,2.15e-3) (0.2185,2.3e-3) (0.22,2.1e-3) (0.2215,2.3e-3) (0.222,2.24e-3) (0.2235,2.05e-3) (0.225,1.9e-3) (0.226,1.8e-3) (0.2275,1.5e-3) (0.229,1.3e-3) (0.23,1.16e-3) (0.2315,1.05e-3) (0.233,9.6e-4) (0.234,6e-4) (0.235,3.75e-4) (0.2355,2.5e-4) (0.236,1.5e-4)};
\addplot[black, line width=0.9pt] coordinates {(0.0107,2e-4) (0.0107,4.2e-3)};
\end{axis}

\begin{axis}[panel, rowlow, ymode=log, tcol, at={(377pt,147pt)}]
\addplot[black, dotted, line width=0.9pt] coordinates {(0.2259,1.95e-5) (0.2259,4.1e-4)};
\addplot[blue, rootdash] coordinates {(0.03,1.75e-4) (0.035,1.42e-4) (0.04,1.14e-4) (0.045,9.0e-5) (0.05,6.9e-5) (0.055,5.4e-5) (0.06,4.45e-5) (0.065,3.8e-5) (0.07,3.35e-5) (0.075,3.05e-5) (0.08,2.87e-5) (0.09,2.68e-5) (0.1,2.58e-5) (0.11,2.55e-5) (0.25,2.55e-5)};
\addplot[blue] coordinates {(0.0113,1.95e-5) (0.0115,4.13e-5) (0.012,1.2e-4) (0.0125,1.6e-4) (0.0128,2.07e-4) (0.013,1.3e-4) (0.0135,1.7e-4) (0.014,1.1e-4) (0.0145,1.6e-4) (0.015,1.25e-4) (0.0157,1.8e-4) (0.016,1.3e-4) (0.0165,1.6e-4) (0.017,1.15e-4) (0.0175,1.7e-4) (0.018,1.35e-4) (0.0185,1.55e-4) (0.019,1.2e-4) (0.0195,1.45e-4) (0.02,1.0e-4) (0.0205,1.7e-4) (0.021,1.4e-4) (0.0215,1.9e-4) (0.022,2.2e-4) (0.0225,1.5e-4) (0.023,1.3e-4) (0.0235,1.6e-4) (0.024,1.0e-4) (0.0245,1.7e-4) (0.025,1.45e-4) (0.0255,1.9e-4) (0.026,1.55e-4) (0.0265,2.0e-4) (0.027,1.6e-4) (0.0277,2.68e-4) (0.028,1.95e-4) (0.0285,1.85e-4) (0.0306,1.71e-4) (0.0335,1.5e-4) (0.037,1.28e-4) (0.040,1.1e-4) (0.0433,9.3e-5) (0.0465,7.8e-5) (0.0497,6.5e-5) (0.053,5.6e-5) (0.056,4.9e-5) (0.06,4.2e-5) (0.0645,3.64e-5) (0.069,3.3e-5) (0.073,3.1e-5) (0.078,2.92e-5) (0.082,2.8e-5) (0.087,2.7e-5) (0.092,2.63e-5) (0.097,2.58e-5) (0.103,2.55e-5) (0.25,2.55e-5)};
\addplot[red, rootdash] coordinates {(0.222,6.3e-5) (0.2245,5.35e-5) (0.227,6.3e-5) (0.229,1.3e-4) (0.2315,2.3e-4) (0.234,2.77e-4) (0.2355,2.0e-4) (0.237,1.1e-4) (0.238,6.3e-5) (0.2395,4.5e-5) (0.241,3.75e-5) (0.243,3.3e-5) (0.2455,3.1e-5) (0.248,2.95e-5) (0.251,2.9e-5)};
\addplot[red] coordinates {(0.0115,4.13e-5) (0.0125,5.5e-5) (0.0135,7.2e-5) (0.0145,8.7e-5) (0.0155,1.05e-4) (0.0165,1.25e-4) (0.018,1.55e-4) (0.019,1.62e-4) (0.02,1.7e-4) (0.021,1.75e-4) (0.022,1.82e-4) (0.023,1.78e-4) (0.024,1.86e-4) (0.025,1.82e-4) (0.026,1.9e-4) (0.027,1.85e-4) (0.028,1.93e-4) (0.029,1.94e-4) (0.03,1.87e-4) (0.031,1.92e-4) (0.032,1.84e-4) (0.033,1.9e-4) (0.034,1.86e-4) (0.035,1.9e-4) (0.036,1.85e-4) (0.037,1.92e-4) (0.038,1.87e-4) (0.039,1.96e-4) (0.04,1.9e-4) (0.041,1.94e-4) (0.042,1.86e-4) (0.043,1.88e-4) (0.044,1.8e-4) (0.045,1.78e-4) (0.046,1.75e-4) (0.047,1.72e-4) (0.048,1.74e-4) (0.049,1.69e-4) (0.05,1.7e-4) (0.051,1.64e-4) (0.052,1.65e-4) (0.053,1.6e-4) (0.054,1.63e-4) (0.055,1.58e-4) (0.056,1.6e-4) (0.057,1.56e-4) (0.058,1.59e-4) (0.059,1.55e-4) (0.06,1.57e-4) (0.061,1.55e-4) (0.062,1.5e-4) (0.063,1.47e-4) (0.064,1.42e-4) (0.065,1.4e-4) (0.066,1.36e-4) (0.067,1.36e-4) (0.068,1.42e-4) (0.069,1.45e-4) (0.07,1.5e-4) (0.071,1.53e-4) (0.072,1.58e-4) (0.073,1.6e-4) (0.074,1.56e-4) (0.075,1.62e-4) (0.076,1.58e-4) (0.077,1.65e-4) (0.078,1.6e-4) (0.079,1.67e-4) (0.08,1.63e-4) (0.081,1.7e-4) (0.082,1.71e-4) (0.083,1.66e-4) (0.084,1.72e-4) (0.085,1.68e-4) (0.086,1.75e-4) (0.087,1.7e-4) (0.088,1.76e-4) (0.089,1.72e-4) (0.09,1.78e-4) (0.091,1.74e-4) (0.092,1.8e-4) (0.093,1.76e-4) (0.094,1.82e-4) (0.095,1.82e-4) (0.096,1.76e-4) (0.097,1.8e-4) (0.098,1.73e-4) (0.099,1.76e-4) (0.1,1.7e-4) (0.101,1.73e-4) (0.102,1.66e-4) (0.103,1.7e-4) (0.104,1.64e-4) (0.105,1.65e-4) (0.106,1.6e-4) (0.107,1.62e-4) (0.108,1.57e-4) (0.109,1.58e-4) (0.11,1.54e-4) (0.111,1.55e-4) (0.112,1.5e-4) (0.113,1.52e-4) (0.114,1.5e-4) (0.115,1.45e-4) (0.116,1.4e-4) (0.117,1.32e-4) (0.118,1.25e-4) (0.119,1.2e-4) (0.12,1.16e-4) (0.121,1.22e-4) (0.122,1.28e-4) (0.123,1.25e-4) (0.124,1.32e-4) (0.125,1.36e-4) (0.126,1.4e-4) (0.127,1.45e-4) (0.128,1.42e-4) (0.129,1.5e-4) (0.13,1.46e-4) (0.131,1.52e-4) (0.132,1.48e-4) (0.133,1.54e-4) (0.134,1.5e-4) (0.135,1.56e-4) (0.136,1.52e-4) (0.137,1.58e-4) (0.138,1.55e-4) (0.139,1.6e-4) (0.14,1.56e-4) (0.141,1.62e-4) (0.142,1.58e-4) (0.143,1.6e-4) (0.144,1.55e-4) (0.145,1.58e-4) (0.146,1.5e-4) (0.147,1.52e-4) (0.148,1.46e-4) (0.149,1.48e-4) (0.15,1.44e-4) (0.151,1.47e-4) (0.152,1.4e-4) (0.153,1.42e-4) (0.154,1.36e-4) (0.155,1.38e-4) (0.156,1.3e-4) (0.157,1.32e-4) (0.158,1.26e-4) (0.159,1.24e-4) (0.16,1.2e-4) (0.161,1.22e-4) (0.162,1.18e-4) (0.163,1.2e-4) (0.164,1.16e-4) (0.165,1.18e-4) (0.166,1.13e-4) (0.167,1.15e-4) (0.168,1.1e-4) (0.169,1.05e-4) (0.17,1.0e-4) (0.171,9.6e-5) (0.172,9.2e-5) (0.173,8.8e-5) (0.174,8.5e-5) (0.175,8.2e-5) (0.176,7.9e-5) (0.177,8.1e-5) (0.178,8.5e-5) (0.179,8.8e-5) (0.18,9.2e-5) (0.181,9.0e-5) (0.182,9.4e-5) (0.183,9.5e-5) (0.184,1.0e-4) (0.185,1.04e-4) (0.186,1.08e-4) (0.187,1.12e-4) (0.188,1.1e-4) (0.189,1.16e-4) (0.19,1.14e-4) (0.191,1.2e-4) (0.192,1.16e-4) (0.193,1.18e-4) (0.194,1.12e-4) (0.195,1.15e-4) (0.196,1.1e-4) (0.197,1.13e-4) (0.198,1.08e-4) (0.199,1.12e-4) (0.2,1.1e-4) (0.201,1.12e-4) (0.202,1.06e-4) (0.203,1.08e-4) (0.204,1.03e-4) (0.205,1.06e-4) (0.206,1.05e-4) (0.207,1.0e-4) (0.208,9.5e-5) (0.209,9.0e-5) (0.21,8.6e-5) (0.211,8.3e-5) (0.212,8.1e-5) (0.213,8.3e-5) (0.214,8.0e-5) (0.215,8.2e-5) (0.216,7.8e-5) (0.217,8.0e-5) (0.218,7.6e-5) (0.219,7.7e-5) (0.22,7.2e-5) (0.221,6.8e-5) (0.222,6.3e-5) (0.223,5.8e-5) (0.2245,5.35e-5) (0.2255,5.6e-5) (0.227,6.3e-5) (0.228,8.5e-5) (0.229,1.2e-4) (0.2305,1.7e-4) (0.232,2.2e-4) (0.233,2.0e-4) (0.234,1.8e-4) (0.2355,1.2e-4) (0.237,7.4e-5) (0.238,9.5e-5) (0.239,1.2e-4) (0.2415,1.4e-4) (0.244,1.65e-4) (0.247,2.1e-4) (0.25,2.8e-4) (0.2513,3.05e-4)};
\addplot[black, line width=0.9pt] coordinates {(0.0114,1.95e-5) (0.0114,4.1e-4)};
\end{axis}
\end{tikzpicture}
\end{document}
